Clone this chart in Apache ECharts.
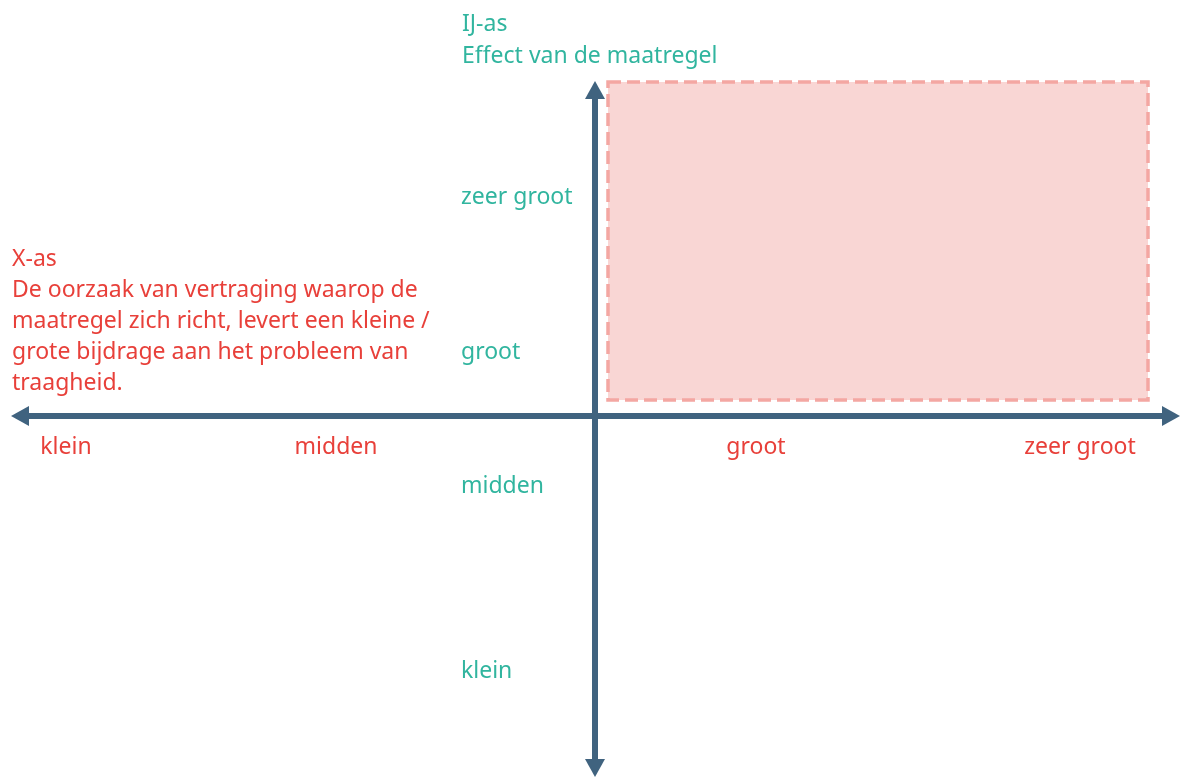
<!DOCTYPE html>
<html>
<head>
<meta charset="utf-8">
<script src="https://cdn.jsdelivr.net/npm/echarts@6/dist/echarts.min.js"></script>
<style>
  html, body { margin: 0; padding: 0; background: #fff; }
  #container { width: 1181px; height: 780px; }
</style>
</head>
<body>
<div id="container"></div>
<script>
var container = document.getElementById('container');
var chart = echarts.init(container);

// categorieën op de X-as (oorzaak) en hun plaats op de as
var xCategories = ['klein', 'midden', 'groot', 'zeer groot'];
var xCategoryPos = [-5.29, -2.59, 1.61, 4.85];
var xLabelLevel = -0.31;

// categorieën op de IJ-as (effect) en hun plaats op de as
var yCategories = ['zeer groot', 'groot', 'midden', 'klein'];
var yCategoryPos = [2.19, 0.64, -0.70, -2.55];
var yLabelLevel = -1.34;

// gemarkeerd vlak: groot/zeer groot effect, groot/zeer groot bijdrage
var areaX = [0.13, 5.53];
var areaY = [0.16, 3.34];

var RED = '#e8403a';
var TEAL = '#31b59f';
var AXIS = '#40637f';
var FONT = '"Noto Sans", sans-serif';
var FS = 23;

var xLabelData = xCategories.map(function (c, i) {
    return { name: c, value: [xCategoryPos[i], xLabelLevel] };
});
var yLabelData = yCategories.map(function (c, i) {
    return { name: c, value: [yLabelLevel, yCategoryPos[i]] };
});

var axisLine = {
    onZero: true,
    lineStyle: { color: AXIS, width: 6 },
    symbol: ['triangle', 'triangle'], symbolSize: [20, 18]
};
var hidden = { show: false };

var option = {
    animation: false,
    backgroundColor: '#ffffff',
    title: [
        {
            text: 'IJ-as\nEffect van de maatregel',
            left: 457, top: 3,
            textStyle: { color: TEAL, fontSize: FS, fontWeight: 'normal', fontFamily: FONT, lineHeight: 32 }
        },
        {
            text: 'X-as\nDe oorzaak van vertraging waarop de\nmaatregel zich richt, levert een kleine /\ngrote bijdrage aan het probleem van\ntraagheid.',
            left: 7, top: 239,
            textStyle: { color: RED, fontSize: FS, fontWeight: 'normal', fontFamily: FONT, lineHeight: 31 }
        }
    ],
    // grid 0: de assen met pijlen, grid 1: zelfde schaal maar hoger, voor het vlak
    grid: [
        { left: 20, right: 10, top: 90, bottom: 12 },
        { left: 20, right: 10, top: 0, bottom: 12 }
    ],
    xAxis: [
        {
            type: 'value', min: -5.75, max: 5.76, gridIndex: 0,
            splitLine: hidden, axisTick: hidden, axisLabel: hidden,
            axisLine: axisLine
        },
        {
            type: 'value', min: -5.75, max: 5.76, gridIndex: 1, show: false
        }
    ],
    yAxis: [
        {
            type: 'value', min: -3.52, max: 3.26, gridIndex: 0,
            splitLine: hidden, axisTick: hidden, axisLabel: hidden,
            axisLine: axisLine
        },
        {
            type: 'value', min: -3.52, max: 4.16, gridIndex: 1, show: false
        }
    ],
    series: [
        {
            type: 'scatter', symbolSize: 0, z: 1,
            xAxisIndex: 1, yAxisIndex: 1,
            data: [],
            markArea: {
                silent: true,
                itemStyle: {
                    color: '#f9d6d4',
                    borderColor: '#f4a7a2',
                    borderWidth: 3.5,
                    borderType: [13, 6]
                },
                data: [[{ coord: [areaX[0], areaY[1]] }, { coord: [areaX[1], areaY[0]] }]]
            }
        },
        {
            type: 'scatter', symbolSize: 0,
            itemStyle: { opacity: 1 },
            data: xLabelData,
            label: {
                show: true, position: 'inside', formatter: '{b}',
                color: RED, fontSize: FS, fontFamily: FONT
            }
        },
        {
            type: 'scatter', symbolSize: 0,
            itemStyle: { opacity: 1 },
            data: yLabelData,
            label: {
                show: true, position: 'right', distance: 0, formatter: '{b}',
                color: TEAL, fontSize: FS, fontFamily: FONT
            }
        }
    ]
};
chart.setOption(option);
</script>
</body>
</html>
